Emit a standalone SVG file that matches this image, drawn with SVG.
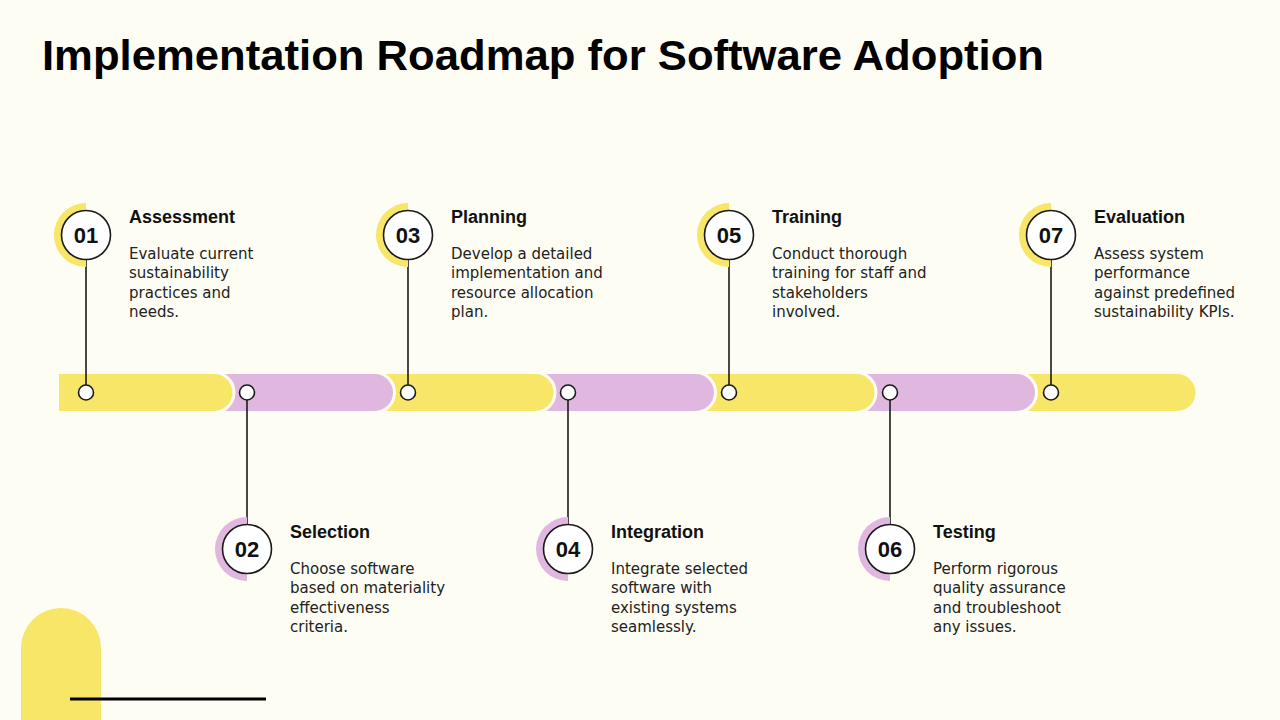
<svg xmlns="http://www.w3.org/2000/svg" width="1280" height="720" viewBox="0 0 1280 720">
<style>
.bg{fill:#FDFDF3}
.y{fill:#F7E668}
.p{fill:#E0B7DF}
.seg{stroke:#FDFDF3;stroke-width:3}
.dot{fill:#ffffff;stroke:#1a1a1a;stroke-width:1.6}
.ring{fill:#ffffff;stroke:#1a1a1a;stroke-width:1.6}
.ln{stroke:#1a1a1a;stroke-width:1.6;fill:none}
.num{font-family:"Liberation Sans",Arial,sans-serif;font-weight:bold;font-size:22px;fill:#111;text-anchor:middle}
.ttl{font-family:"Liberation Sans",Arial,sans-serif;font-weight:bold;font-size:18px;fill:#111}
.desc{font-family:"DejaVu Sans",sans-serif;font-size:15px;fill:#222}
.head{font-family:"Liberation Sans",Arial,sans-serif;font-weight:bold;font-size:42px;fill:#000}
</style>
<rect class="bg" x="0" y="0" width="1280" height="720"/>
<text class="head" x="42" y="70" textLength="1002" lengthAdjust="spacingAndGlyphs">Implementation Roadmap for Software Adoption</text>

<g id="deco">
<path class="y" d="M21,720 V648 A40,40 0 0 1 101,648 V720 Z"/>
<line x1="70" y1="699" x2="266" y2="699" stroke="#000" stroke-width="3"/>
</g>

<g id="timeline">
<path class="y seg" d="M1005,372.5 H1177 A20,20 0 0 1 1177,412.5 H1005 Z"/>
<path class="p seg" d="M845,372.5 H1016.5 A20,20 0 0 1 1016.5,412.5 H845 Z"/>
<path class="y seg" d="M684,372.5 H856 A20,20 0 0 1 856,412.5 H684 Z"/>
<path class="p seg" d="M524,372.5 H695.5 A20,20 0 0 1 695.5,412.5 H524 Z"/>
<path class="y seg" d="M363,372.5 H535 A20,20 0 0 1 535,412.5 H363 Z"/>
<path class="p seg" d="M203,372.5 H374.5 A20,20 0 0 1 374.5,412.5 H203 Z"/>
<path class="y seg" d="M57.5,372.5 H214 A20,20 0 0 1 214,412.5 H57.5 Z"/>
</g>

<g id="connectors">
<line class="ln" x1="86" y1="260" x2="86" y2="385"/>
<line class="ln" x1="247" y1="400" x2="247" y2="525"/>
<line class="ln" x1="408" y1="260" x2="408" y2="385"/>
<line class="ln" x1="568" y1="400" x2="568" y2="525"/>
<line class="ln" x1="729" y1="260" x2="729" y2="385"/>
<line class="ln" x1="890" y1="400" x2="890" y2="525"/>
<line class="ln" x1="1051" y1="260" x2="1051" y2="385"/>
</g>

<g id="dots">
<circle class="dot" cx="86" cy="392.5" r="7.5"/>
<circle class="dot" cx="247" cy="392.5" r="7.5"/>
<circle class="dot" cx="408" cy="392.5" r="7.5"/>
<circle class="dot" cx="568" cy="392.5" r="7.5"/>
<circle class="dot" cx="729" cy="392.5" r="7.5"/>
<circle class="dot" cx="890" cy="392.5" r="7.5"/>
<circle class="dot" cx="1051" cy="392.5" r="7.5"/>
</g>

<g id="step01">
<path class="y" d="M86,203 A32,32 0 0 0 86,267 Z"/>
<circle class="ring" cx="86" cy="235" r="24.5"/>
<text class="num" x="86" y="243">01</text>
<text class="ttl" x="129" y="223">Assessment</text>
<text class="desc"><tspan x="129" y="259">Evaluate current</tspan><tspan x="129" y="278">sustainability</tspan><tspan x="129" y="297.5">practices and</tspan><tspan x="129" y="316.5">needs.</tspan></text>
</g>

<g id="step02">
<path class="p" d="M247,517 A32,32 0 0 0 247,581 Z"/>
<circle class="ring" cx="247" cy="549" r="24.5"/>
<text class="num" x="247" y="557">02</text>
<text class="ttl" x="290" y="538">Selection</text>
<text class="desc"><tspan x="290" y="574">Choose software</tspan><tspan x="290" y="593">based on materiality</tspan><tspan x="290" y="612.5">effectiveness</tspan><tspan x="290" y="631.5">criteria.</tspan></text>
</g>

<g id="step03">
<path class="y" d="M408,203 A32,32 0 0 0 408,267 Z"/>
<circle class="ring" cx="408" cy="235" r="24.5"/>
<text class="num" x="408" y="243">03</text>
<text class="ttl" x="451" y="223">Planning</text>
<text class="desc"><tspan x="451" y="259">Develop a detailed</tspan><tspan x="451" y="278">implementation and</tspan><tspan x="451" y="297.5">resource allocation</tspan><tspan x="451" y="316.5">plan.</tspan></text>
</g>

<g id="step04">
<path class="p" d="M568,517 A32,32 0 0 0 568,581 Z"/>
<circle class="ring" cx="568" cy="549" r="24.5"/>
<text class="num" x="568" y="557">04</text>
<text class="ttl" x="611" y="538">Integration</text>
<text class="desc"><tspan x="611" y="574">Integrate selected</tspan><tspan x="611" y="593">software with</tspan><tspan x="611" y="612.5">existing systems</tspan><tspan x="611" y="631.5">seamlessly.</tspan></text>
</g>

<g id="step05">
<path class="y" d="M729,203 A32,32 0 0 0 729,267 Z"/>
<circle class="ring" cx="729" cy="235" r="24.5"/>
<text class="num" x="729" y="243">05</text>
<text class="ttl" x="772" y="223">Training</text>
<text class="desc"><tspan x="772" y="259">Conduct thorough</tspan><tspan x="772" y="278">training for staff and</tspan><tspan x="772" y="297.5">stakeholders</tspan><tspan x="772" y="316.5">involved.</tspan></text>
</g>

<g id="step06">
<path class="p" d="M890,517 A32,32 0 0 0 890,581 Z"/>
<circle class="ring" cx="890" cy="549" r="24.5"/>
<text class="num" x="890" y="557">06</text>
<text class="ttl" x="933" y="538">Testing</text>
<text class="desc"><tspan x="933" y="574">Perform rigorous</tspan><tspan x="933" y="593">quality assurance</tspan><tspan x="933" y="612.5">and troubleshoot</tspan><tspan x="933" y="631.5">any issues.</tspan></text>
</g>

<g id="step07">
<path class="y" d="M1051,203 A32,32 0 0 0 1051,267 Z"/>
<circle class="ring" cx="1051" cy="235" r="24.5"/>
<text class="num" x="1051" y="243">07</text>
<text class="ttl" x="1094" y="223">Evaluation</text>
<text class="desc"><tspan x="1094" y="259">Assess system</tspan><tspan x="1094" y="278">performance</tspan><tspan x="1094" y="297.5">against predefined</tspan><tspan x="1094" y="316.5">sustainability KPIs.</tspan></text>
</g>
</svg>
